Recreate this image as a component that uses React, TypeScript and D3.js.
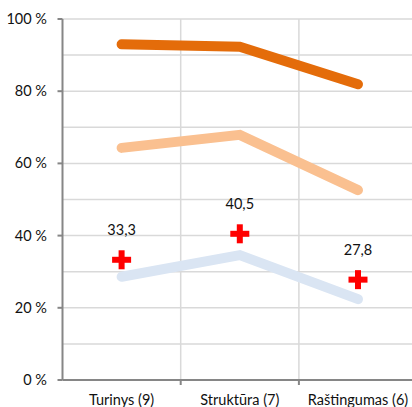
import React from "react";
import { scaleBand, scaleLinear, line, range } from "d3";

const categories = ["Turinys (9)", "Struktūra (7)", "Raštingumas (6)"];
const seriesDark = [93.0, 92.3, 81.9];
const seriesLight = [64.3, 67.9, 52.6];
const seriesBlue = [28.6, 34.6, 22.4];
const markerValues = [33.3, 40.5, 27.8];
const yTicks = [0, 20, 40, 60, 80, 100];

const lines = [
  { values: seriesBlue, color: "#DAE5F3" },
  { values: seriesLight, color: "#FAC090" },
  { values: seriesDark, color: "#E46C0A" }
];

const FONT = "Lato, 'Open Sans', sans-serif";

export default function App() {
  const width = 412,
    height = 407;
  const margin = { top: 19, left: 62.5, bottom: 27 };
  const bandW = 118.2;

  const x = scaleBand()
    .domain(categories)
    .range([margin.left, margin.left + bandW * categories.length]);
  const y = scaleLinear()
    .domain([0, 100])
    .range([height - margin.bottom, margin.top]);

  const cx = (c: string) => (x(c) as number) + x.bandwidth() / 2;
  const path = line<number>()
    .x((_, i) => cx(categories[i]))
    .y(d => y(d));

  const x0 = margin.left;
  const x1 = margin.left + bandW * categories.length;
  const gridVals = range(10, 101, 10);

  return (
    <svg
      width={width}
      height={height}
      style={{ position: "absolute", left: 0, top: 0, background: "#fff" }}
    >
      {/* horizontal grid */}
      {gridVals.map(v => (
        <line
          key={v}
          x1={x0}
          x2={x1}
          y1={y(v)}
          y2={y(v)}
          stroke="#D9D9D9"
          strokeWidth={1.5}
        />
      ))}
      {/* vertical grid */}
      {categories.slice(1).map(c => (
        <line
          key={c}
          x1={x(c) as number}
          x2={x(c) as number}
          y1={y(100)}
          y2={y(0)}
          stroke="#D9D9D9"
          strokeWidth={1.5}
        />
      ))}

      {/* axes */}
      <line x1={x0} x2={x0} y1={y(100)} y2={y(0)} stroke="#868686" strokeWidth={2} />
      <line x1={x0} x2={x1} y1={y(0)} y2={y(0)} stroke="#868686" strokeWidth={2} />
      {yTicks.map(t => (
        <g key={t}>
          <line x1={x0 - 5} x2={x0} y1={y(t)} y2={y(t)} stroke="#868686" strokeWidth={2} />
          <text
            x={47}
            y={y(t)}
            dy="0.35em"
            textAnchor="end"
            fontFamily={FONT}
            fontSize={14.5}
            fill="#111"
          >
            {t} %
          </text>
        </g>
      ))}
      {categories.slice(1).map(c => (
        <line
          key={c}
          x1={x(c) as number}
          x2={x(c) as number}
          y1={y(0)}
          y2={y(0) + 5}
          stroke="#868686"
          strokeWidth={2}
        />
      ))}
      {categories.map(c => (
        <text
          key={c}
          x={cx(c)}
          y={405}
          textAnchor="middle"
          fontFamily={FONT}
          fontSize={14.5}
          fill="#111"
        >
          {c}
        </text>
      ))}

      {/* series lines */}
      {lines.map((s, i) => (
        <path
          key={i}
          d={path(s.values) || ""}
          fill="none"
          stroke={s.color}
          strokeWidth={10}
          strokeLinecap="round"
          strokeLinejoin="miter"
        />
      ))}

      {/* markers */}
      {markerValues.map((v, i) => {
        const px = cx(categories[i]);
        const py = y(v);
        return (
          <g key={i}>
            <rect x={px - 9.5} y={py - 3} width={19} height={6} fill="#FF0000" />
            <rect x={px - 3} y={py - 9.5} width={6} height={19} fill="#FF0000" />
            <text
              x={px}
              y={py - 25}
              textAnchor="middle"
              fontFamily={FONT}
              fontSize={14.5}
              fill="#111"
            >
              {String(v).replace(".", ",")}
            </text>
          </g>
        );
      })}
    </svg>
  );
}
